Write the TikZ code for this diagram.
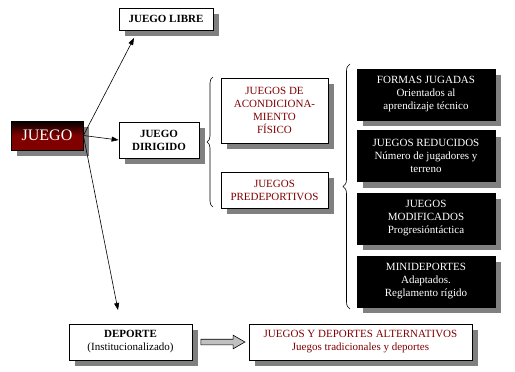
\documentclass[tikz,border=0pt]{standalone}
\usepackage{fontspec}
\setmainfont{Liberation Serif}
\usetikzlibrary{positioning, arrows.meta, shadows, shapes.arrows, decorations.pathreplacing, calc}
\definecolor{darkred}{HTML}{800000}
\definecolor{shadowgray}{HTML}{808080}
\definecolor{arrowgray}{HTML}{C0C0C0}

\begin{document}
\begin{tikzpicture}[
    x=1pt, y=-1pt,
    >={Triangle[length=7pt, width=5pt]},
    box/.style={
        draw, line width=0.8pt, fill=white,
        font=\fontsize{11}{13}\selectfont, inner sep=2pt,
        text centered, align=center,
        drop shadow={shadow xshift=6pt, shadow yshift=-6pt, fill=shadowgray, opacity=1}
    },
    darkbox/.style={box, fill=black, text=white, minimum width=138pt, minimum height=51pt},
    redtext/.style={text=darkred},
    arr/.style={->, line width=0.6pt},
    brc/.style={decorate, decoration={brace, amplitude=6pt}, line width=0.6pt},
    fatarrow/.style={
        single arrow, draw, line width=0.6pt, fill=arrowgray,
        minimum height=44pt, inner sep=2.5pt,
        single arrow head extend=4pt, single arrow tip angle=60
    },
]
\useasboundingbox[fill=white] (0,0) rectangle (515,372);

% Root and first level (left)
\node[box, top color=black, bottom color=darkred, middle color=darkred,
      text=white, font=\fontsize{16}{18}\selectfont,
      minimum width=72pt, minimum height=29pt] (juego) at (47,135.5) {JUEGO};
\node[box, font=\fontsize{11}{13}\selectfont\bfseries,
      minimum width=94pt, minimum height=22pt] (libre) at (166,19) {JUEGO LIBRE};
\node[box, font=\fontsize{11}{13}\selectfont\bfseries,
      minimum width=80pt, minimum height=36pt] (dirigido) at (159,140) {JUEGO\\DIRIGIDO};
\node[box, minimum width=123pt, minimum height=36pt] (deporte) at (130.5,342)
    {\textbf{DEPORTE}\\(Institucionalizado)};

% Middle column: kinds of directed play
\node[box, redtext, minimum width=107pt, minimum height=65pt] (acond) at (274.5,110.5)
    {JUEGOS DE\\ACONDICIONA-\\MIENTO\\FÍSICO};
\node[box, redtext, minimum width=107pt, minimum height=36pt] (predep) at (274.5,190)
    {JUEGOS\\PREDEPORTIVOS};

% Right column: black boxes
\node[darkbox] (formas) at (426,94.5) {FORMAS JUGADAS\\Orientados al\\aprendizaje técnico};
\node[darkbox] (reducidos) at (426,156) {JUEGOS REDUCIDOS\\Número de jugadores y\\terreno};
\node[darkbox] (modificados) at (426,218.5) {JUEGOS\\MODIFICADOS\\Progresióntáctica};
\node[darkbox] (mini) at (426,281.5) {MINIDEPORTES\\Adaptados.\\Reglamento rígido};

% Bottom row
\node[box, redtext, minimum width=223pt, minimum height=36pt] (alternativos) at (360.5,342)
    {JUEGOS Y DEPORTES ALTERNATIVOS\\Juegos tradicionales y deportes};
\node[fatarrow] (fat) at ($(deporte.east)!0.5!(alternativos.west)$) {};

% Arrows out of the root
\coordinate (toLibre) at (134,38);
\coordinate (toDeporte) at (118,310);
\draw[arr] (juego.east) -- (toLibre);
\draw[arr] (juego.east) -- (dirigido.west);
\draw[arr] (juego.east) -- (toDeporte);

% Braces
\coordinate (braceAbot) at (213,207);
\coordinate (braceAtop) at (213,77);
\coordinate (braceBbot) at (350,309);
\coordinate (braceBtop) at (350,64);
\draw[brc] (braceAbot) -- (braceAtop);
\draw[brc, decoration={amplitude=7pt}] (braceBbot) -- (braceBtop);

\end{tikzpicture}
\end{document}
